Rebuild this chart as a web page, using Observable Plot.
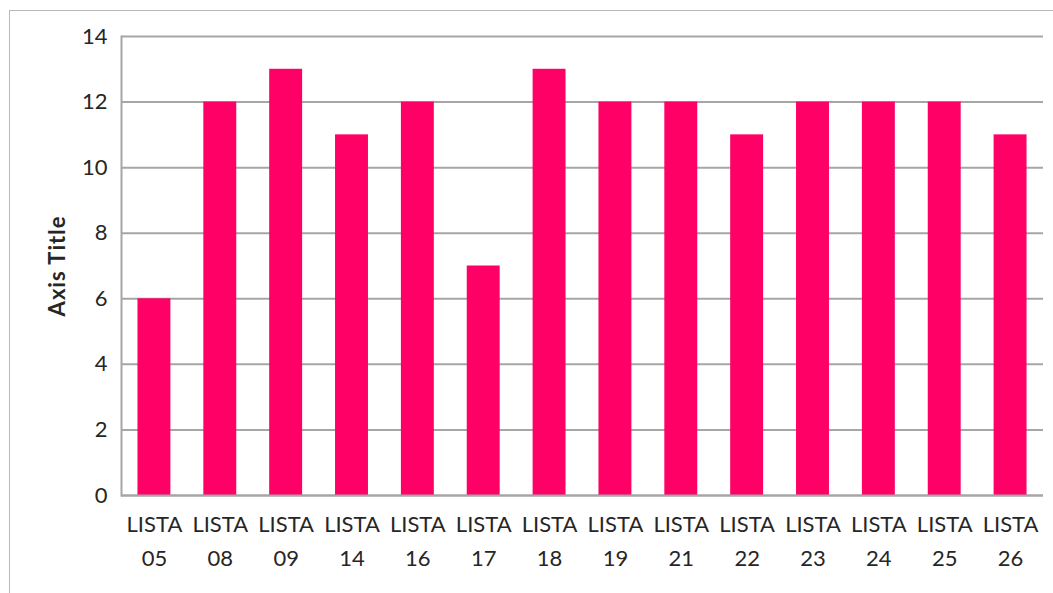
<!DOCTYPE html>
<html>
<head>
<meta charset="utf-8">
<script src="https://cdn.jsdelivr.net/npm/d3@7"></script>
<script src="https://cdn.jsdelivr.net/npm/@observablehq/plot@0.6"></script>
<style>
  html, body { margin: 0; padding: 0; background: #fff; overflow: hidden; }
  #wrap { position: relative; width: 1053px; height: 593px; }
  #frame { position: absolute; left: 9px; top: 10px; width: 1200px; height: 800px; border: 1px solid #b8b8b8; box-sizing: border-box; }
  #chart { position: absolute; left: 0; top: 0; }
  g[aria-label="y-axis label"] text { font-weight: bold; letter-spacing: 1px; }
</style>
</head>
<body>
<div id="wrap"><div id="frame"></div><div id="chart"></div></div>
<script>
const categories = ["05","08","09","14","16","17","18","19","21","22","23","24","25","26"];
const values = [6,12,13,11,12,7,13,12,12,11,12,12,12,11];
const yTicks = [0,2,4,6,8,10,12,14];
const data = categories.map((c, i) => ({cat: c, value: values[i]}));

const plot = Plot.plot({
  width: 1053,
  height: 593,
  marginLeft: 121,
  marginRight: 10,
  marginTop: 36,
  marginBottom: 98,
  style: { fontFamily: "Lato, 'Open Sans', sans-serif", fontSize: "22px", color: "#262626", background: "transparent" },
  x: { domain: categories, paddingInner: 0.5, paddingOuter: 0.25, align: 0.5, round: false },
  y: { domain: [0, 14] },
  marks: [
    Plot.ruleY(yTicks, { stroke: "#a6a6a6", strokeWidth: 2 }),
    Plot.barY(data, { x: "cat", y: "value", fill: "#FF0066" }),
    Plot.frame({ anchor: "left", stroke: "#a6a6a6", strokeWidth: 2 }),
    Plot.ruleY([0], { stroke: "#a6a6a6", strokeWidth: 2 }),
    Plot.axisY(yTicks, { tickSize: 0, tickPadding: 14, fontSize: 22, label: "Axis Title", labelArrow: "none", labelAnchor: "center", labelOffset: 72 }),
    Plot.axisX({ tickSize: 0, tickPadding: 12, fontSize: 22, lineHeight: 34/22, tickFormat: d => "LISTA\n" + d, label: null })
  ]
});
document.getElementById("chart").appendChild(plot);
</script>
</body>
</html>
